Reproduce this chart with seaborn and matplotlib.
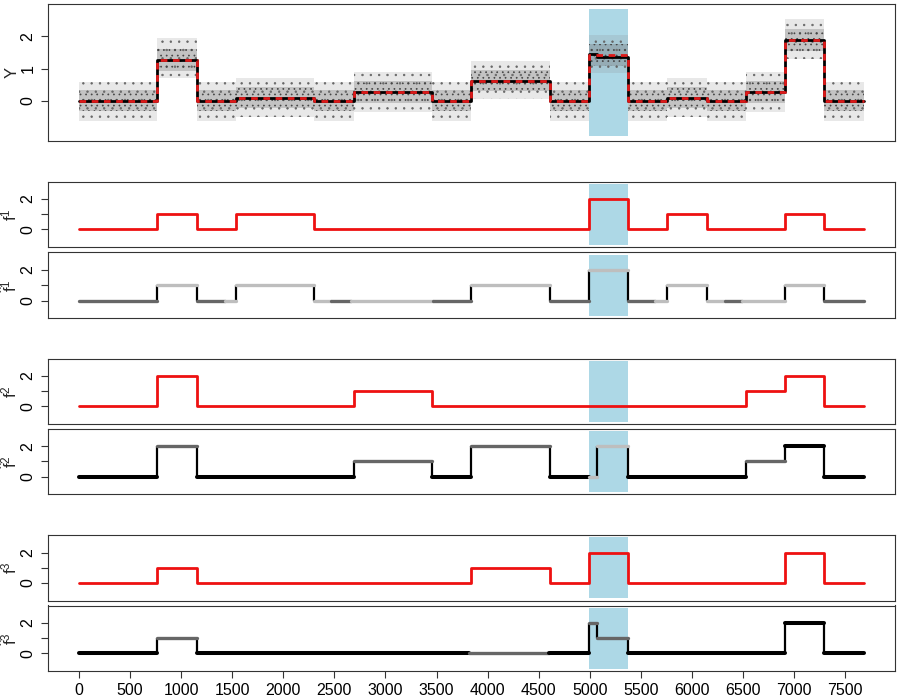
import numpy as np
import pandas as pd
import seaborn as sns
import matplotlib.pyplot as plt

# block boundaries (positions along the sequence)
breaks = [0, 768, 1152, 1536, 2304, 2688, 3456, 3840, 4608, 4992,
          5376, 5760, 6144, 6528, 6912, 7296, 7680]

# true component profiles, one value per block
f1 = [0, 1, 0, 1, 0, 0, 0, 0, 0, 2, 0, 1, 0, 0, 1, 0]
f2 = [0, 2, 0, 0, 0, 1, 0, 0, 0, 0, 0, 0, 0, 1, 2, 0]
f3 = [0, 1, 0, 0, 0, 0, 0, 1, 0, 2, 0, 0, 0, 0, 2, 0]

# combined signal: truth (red dashed) and fit (black)
y_true = [0, 1.27, 0, 0.10, 0, 0.26, 0, 0.63, 0, 1.43, 0, 0.10, 0, 0.26, 1.88, 0]
fit_breaks = [0, 768, 1152, 1536, 2304, 2688, 3456, 3840, 4608, 4992, 5070,
              5376, 5760, 6144, 6528, 6912, 7296, 7680]
y_fit = [0, 1.27, 0, 0.10, 0, 0.26, 0, 0.63, 0, 1.47, 1.37, 0, 0.10, 0, 0.26, 1.88, 0]

# extent of the observation cloud per block (dense core and sparse fringe)
core_lo = [-0.33, 0.93, -0.33, -0.22, -0.33, -0.07, -0.33, 0.30, -0.33, 1.08,
           -0.33, -0.22, -0.33, -0.07, 1.55, -0.33]
core_hi = [0.33, 1.62, 0.33, 0.44, 0.33, 0.60, 0.33, 0.97, 0.33, 1.78,
           0.33, 0.44, 0.33, 0.60, 2.22, 0.33]
fringe_lo = [-0.62, 0.70, -0.62, -0.50, -0.62, -0.35, -0.62, 0.05, -0.62, 0.85,
             -0.62, -0.50, -0.62, -0.35, 1.30, -0.62]
fringe_hi = [0.58, 1.95, 0.58, 0.72, 0.58, 0.88, 0.58, 1.25, 0.58, 2.05,
             0.58, 0.72, 0.58, 0.88, 2.55, 0.58]

# highlighted region
band = (4992, 5376)

# estimated components: segment start, end, level, shade
fh1_start = [0, 768, 1152, 1426, 1536, 2304, 2470, 2666, 3470, 3840, 4608, 4992,
             5376, 5635, 5760, 6144, 6328, 6494, 6912, 7296]
fh1_end = [768, 1152, 1426, 1536, 2304, 2470, 2666, 3470, 3840, 4608, 4992, 5376,
           5635, 5760, 6144, 6328, 6494, 6912, 7296, 7680]
fh1_level = [0, 1, 0, 0, 1, 0, 0, 0, 0, 1, 0, 2, 0, 0, 1, 0, 0, 0, 1, 0]
fh1_shade = ["dark", "light", "dark", "light", "light", "light", "dark", "light",
             "dark", "light", "dark", "light", "dark", "light", "light", "light",
             "dark", "light", "light", "dark"]
fh1_jumps = [768, 1152, 1536, 2304, 3840, 4608, 4992, 5376, 5760, 6144, 6912, 7296]

fh2_start = [0, 768, 1152, 2688, 3456, 3840, 4608, 4992, 5070, 5376, 6528, 6912, 7296]
fh2_end = [768, 1152, 2688, 3456, 3840, 4608, 4992, 5070, 5376, 6528, 6912, 7296, 7680]
fh2_level = [0, 2, 0, 1, 0, 2, 0, 0, 2, 0, 1, 2, 0]
fh2_shade = ["black", "dark", "black", "dark", "black", "dark", "black", "light",
             "light", "black", "dark", "black", "black"]
fh2_jumps = [768, 1152, 2688, 3456, 3840, 4608, 5070, 5376, 6528, 6912, 7296]

fh3_start = [0, 768, 1152, 3820, 4600, 4992, 5070, 5376, 6912, 7296]
fh3_end = [768, 1152, 3820, 4600, 4992, 5070, 5376, 6912, 7296, 7680]
fh3_level = [0, 1, 0, 0, 0, 2, 1, 0, 2, 0]
fh3_shade = ["black", "dark", "black", "dark", "black", "dark", "dark", "black",
             "black", "black"]
fh3_jumps = [768, 1152, 4992, 5070, 5376, 6912, 7296]

x_ticks = list(range(0, 7501, 500))

shade_colors = {"black": "#000000", "dark": "#666666", "light": "#BEBEBE"}
red = "#EE1111"
lightblue = "#ADD8E6"

sns.set_theme(style="white", rc={
    "axes.edgecolor": "#333333",
    "axes.linewidth": 0.8,
    "xtick.bottom": True,
    "ytick.left": True,
    "xtick.direction": "out",
    "ytick.direction": "out",
    "xtick.major.size": 5,
    "ytick.major.size": 5,
    "xtick.major.width": 0.8,
    "ytick.major.width": 0.8,
    "xtick.color": "#333333",
    "ytick.color": "#333333",
    "xtick.labelcolor": "black",
    "ytick.labelcolor": "black",
    "hatch.linewidth": 0.5,
    "mathtext.fontset": "custom",
    "mathtext.rm": "Liberation Sans",
    "mathtext.it": "Liberation Sans:italic",
})
plt.rcParams["font.family"] = ["Liberation Sans", "DejaVu Sans"]

fig = plt.figure(figsize=(9, 7), dpi=100)
left, width = 47.5 / 900, 847.5 / 900
tick_fs = 11.5
label_fs = 12
label_x = -0.033


def make_ax(top_px, bot_px):
    return fig.add_axes([left, 1 - bot_px / 700, width, (bot_px - top_px) / 700])


xlim = (-307, 7987)
small_ylim = (-1.16, 3.16)


def style_small(ax, label, show_x=False):
    ax.set_xlim(*xlim)
    ax.set_ylim(*small_ylim)
    ax.set_yticks([0, 1, 2])
    ax.set_yticklabels(["0", "", "2"], rotation=90, va="center", fontsize=tick_fs)
    ax.set_ylabel(label, fontsize=label_fs)
    ax.yaxis.set_label_coords(label_x, 0.5)
    if show_x:
        ax.set_xticks(x_ticks)
        ax.set_xticklabels([str(t) for t in x_ticks], fontsize=tick_fs)
    else:
        ax.set_xticks([])


def add_band(ax, lo, hi):
    ax.fill_between([band[0], band[1]], lo, hi, color=lightblue, lw=0, zorder=1)


def step_xy(bks, vals):
    return pd.DataFrame({"x": bks, "y": list(vals) + [vals[-1]]})


def ext(vals):
    return list(vals) + [vals[-1]]


# --- top panel: observations with true and fitted signal
ax0 = make_ax(4.3, 141)
add_band(ax0, -1.09, 2.84)
ax0.fill_between(breaks, ext(fringe_lo), ext(fringe_hi), step="post",
                 facecolor="#8c8c8c", alpha=0.2, lw=0, zorder=2)
ax0.fill_between(breaks, ext(fringe_lo), ext(fringe_hi), step="post",
                 facecolor="none", edgecolor="#666666", hatch="..", lw=0, zorder=2)
ax0.fill_between(breaks, ext(core_lo), ext(core_hi), step="post",
                 facecolor="#6e6e6e", alpha=0.3, lw=0, zorder=2)
ax0.fill_between(breaks, ext(core_lo), ext(core_hi), step="post",
                 facecolor="none", edgecolor="#444444", hatch="...", lw=0, zorder=2)
sns.lineplot(data=step_xy(fit_breaks, y_fit), x="x", y="y", ax=ax0,
             drawstyle="steps-post", color="black", lw=2.0, sort=False,
             estimator=None, zorder=3)
sns.lineplot(data=step_xy(breaks, y_true), x="x", y="y", ax=ax0,
             drawstyle="steps-post", color="#DD1A1A", lw=2.0, sort=False,
             estimator=None, zorder=4, linestyle=(0, (2.4, 2.0)))
ax0.set_xlim(*xlim)
ax0.set_ylim(-1.25, 3.0)
ax0.set_xticks([])
ax0.set_yticks([0, 1, 2])
ax0.set_yticklabels(["0", "1", "2"], rotation=90, va="center", fontsize=tick_fs)
ax0.set_ylabel("Y", fontsize=label_fs)
ax0.yaxis.set_label_coords(label_x, 0.5)
ax0.set_xlabel("")

panels = [
    (f1, r"$\mathrm{f}^1$", (181.5, 247),
     (fh1_start, fh1_end, fh1_level, fh1_shade, fh1_jumps), r"$\hat{\mathrm{f}}^1$", (252.3, 318.3)),
    (f2, r"$\mathrm{f}^2$", (358.5, 424),
     (fh2_start, fh2_end, fh2_level, fh2_shade, fh2_jumps), r"$\hat{\mathrm{f}}^2$", (428.5, 494.3)),
    (f3, r"$\mathrm{f}^3$", (535, 600.5),
     (fh3_start, fh3_end, fh3_level, fh3_shade, fh3_jumps), r"$\hat{\mathrm{f}}^3$", (605.5, 671)),
]

for i, (f, flab, fpos, est, hlab, hpos) in enumerate(panels):
    ax = make_ax(*fpos)
    add_band(ax, -1, 3)
    sns.lineplot(data=step_xy(breaks, f), x="x", y="y", ax=ax, drawstyle="steps-post",
                 color=red, lw=2.0, sort=False, estimator=None, zorder=3)
    style_small(ax, flab)
    ax.set_xlabel("")

    axh = make_ax(*hpos)
    add_band(axh, -1, 3)
    st, en, lv, sh, jumps = est
    # black jumps between consecutive levels
    lv_at = dict(zip(st, lv))
    for j in jumps:
        prev = [l for s, e, l in zip(st, en, lv) if e == j][0]
        nxt = lv_at[j]
        axh.vlines(j, min(prev, nxt), max(prev, nxt), color="black", lw=1.6, zorder=3)
    axh.hlines(lv, st, en, colors=[shade_colors[s] for s in sh],
               lw=[2.9 if s == "black" else 2.4 for s in sh], zorder=4,
               capstyle="round")
    style_small(axh, hlab, show_x=(i == 2))

fig.savefig("out.png", dpi=100)
